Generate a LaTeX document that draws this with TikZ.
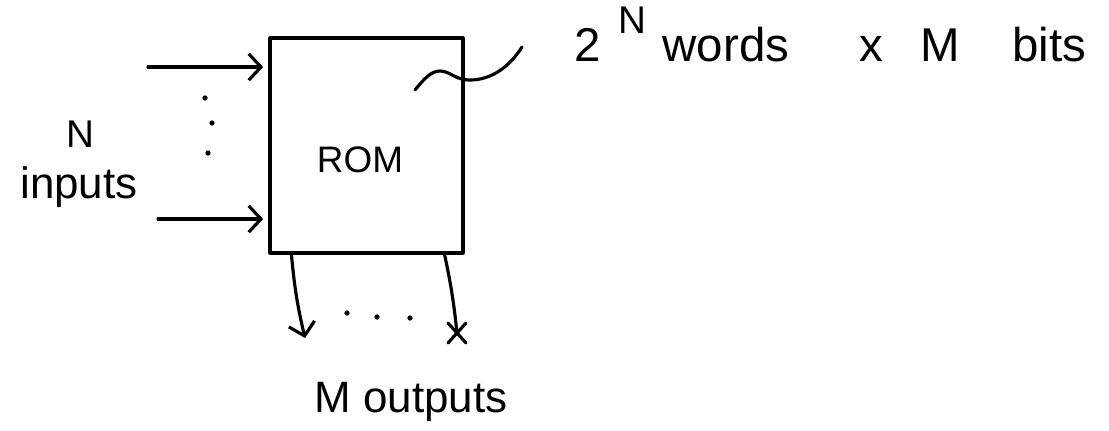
\documentclass[tikz,border=0pt]{standalone}
\usepackage{fontspec}
\setmainfont{Liberation Sans}
\usetikzlibrary{arrows.meta}
\begin{document}
\begin{tikzpicture}[x=0.02cm,y=-0.02cm,line width=1.8pt,line cap=round,line join=round,
  barb/.style={-{Straight Barb[length=7pt,width=15pt,line width=1.8pt]}},
  lbl/.style={inner sep=0pt,font=\fontsize{27}{30}\selectfont},
  small/.style={inner sep=0pt,font=\fontsize{22}{24}\selectfont},
  mid/.style={inner sep=0pt,font=\fontsize{25}{27}\selectfont},
  dotmark/.style={fill,circle,inner sep=0pt,minimum size=3pt}]
\useasboundingbox (0,0) rectangle (1109,430);
% ROM box
\node[draw,minimum width=3.86cm,minimum height=4.3cm,inner sep=0pt] (rom) at (366.5,145.5) {};
\node[small,font=\fontsize{21}{23}\selectfont] (romtxt) at (360,160) {ROM};
% inputs
\coordinate (i1) at (148,67);
\coordinate (i2) at (158,219);
\draw[barb,shorten >=3pt] (i1) -- (i1 -| rom.west);
\draw[barb,shorten >=3pt] (i2) -- (i2 -| rom.west);
\node[dotmark] (v1) at (205,98) {};
\node[dotmark] (v2) at (212,123) {};
\node[dotmark] (v3) at (208,153) {};
\node[small] (n) at (80,134) {N};
\node[mid,anchor=base] (inp) at (79,198) {inputs};
% outputs
\coordinate (o1) at (305,338);
\coordinate (o2) at (457,333);
\draw[barb] ([xshift=0.46cm]rom.south west) to[bend right=4] (o1);
\draw ([xshift=-0.4cm]rom.south east) to[bend left=3] (o2);
\draw (o2) ++(-9,-10) -- ++(18,20);
\draw (o2) ++(9,-10) -- ++(-18,20);
\node[dotmark] (h1) at (347,313) {};
\node[dotmark] (h2) at (377,317) {};
\node[dotmark] (h3) at (410,318) {};
\node[mid,anchor=base] (mout) at (411,412) {M outputs};
% size annotation
\coordinate (c0) at (415,90);
\coordinate (c1) at (522,47);
\draw (c0) .. controls (424,79) and (431,71) .. (440,71)
      .. controls (450,71) and (455,80) .. (470,80)
      .. controls (492,80) and (510,66) .. (c1);
\node[lbl,anchor=base] (two) at (588,61) {2};
\node[small,anchor=base] (sup) at (632,33) {N};
\node[lbl,anchor=base] (words) at (726,61) {words};
\node[lbl,anchor=base] (x) at (871,61) {x};
\node[lbl,anchor=base] (m) at (940,61) {M};
\node[lbl,anchor=base] (bits) at (1049,61) {bits};
\end{tikzpicture}
\end{document}
